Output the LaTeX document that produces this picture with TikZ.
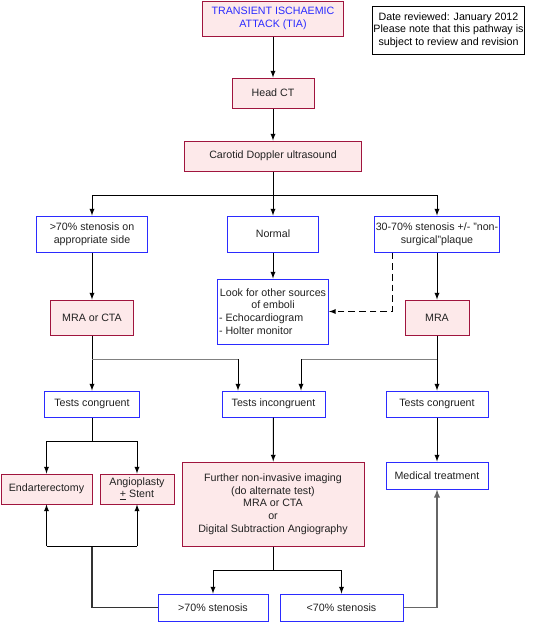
\documentclass[tikz,border=0pt]{standalone}
\usepackage{fontspec}
\setmainfont{Liberation Sans}
\definecolor{boxred}{HTML}{A0153E}
\definecolor{boxpink}{HTML}{FDE9EA}
\definecolor{boxblue}{HTML}{2B2BFF}
\definecolor{txt}{HTML}{222222}

\begin{document}
\begin{tikzpicture}[x=0.75pt, y=-0.75pt, >=latex, line width=0.75pt,
        font=\fontsize{8}{9.5}\selectfont,
        redbox/.style={draw=boxred, fill=boxpink, text=txt, align=center, inner sep=1pt},
        bluebox/.style={draw=boxblue, fill=white, text=txt, align=center, inner sep=1pt}]
        \useasboundingbox (0,0) rectangle (554,622);

        % top of the pathway
        \node[redbox, text=boxblue, minimum width=105.75pt, minimum height=26.25pt] (tia) at (273,18.5) {TRANSIENT ISCHAEMIC\\ATTACK (TIA)};
        \node[draw, fill=white, align=center, inner sep=1pt, minimum width=110.25pt, minimum height=36pt] (date) at (448.5,30) {Date reviewed: January 2012\\Please note that this pathway is\\subject to review and revision};
        \node[redbox, minimum width=61.5pt, minimum height=22.5pt] (head) at (273,93) {Head CT};
        \node[redbox, minimum width=132.75pt, minimum height=22.5pt] (carotid) at (273,156) {Carotid Doppler ultrasound};

        % doppler results
        \node[bluebox, minimum width=83.25pt, minimum height=27pt] (stenL) at (92,234) {>70\% stenosis on\\appropriate side};
        \node[bluebox, minimum width=68.25pt, minimum height=27pt] (normal) at (273,234) {Normal};
        \node[bluebox, minimum width=92.25pt, minimum height=27pt] (stenR) at (437,234) {30-70\% stenosis +/- "non-\\surgical"plaque};

        \node[redbox, minimum width=62.25pt, minimum height=26.25pt] (mraL) at (92,317.5) {MRA or CTA};
        \node[draw=boxblue, fill=white, text=txt, align=left, inner sep=1pt, minimum width=83.25pt, minimum height=48.75pt] (look) at (273,311.5) {\makebox[81pt]{Look for other sources}\\\makebox[81pt]{of emboli}\\- Echocardiogram\\- Holter monitor};
        \node[redbox, minimum width=48pt, minimum height=26.25pt] (mraR) at (437,317.5) {MRA};

        \node[bluebox, minimum width=71.25pt, minimum height=19.5pt] (testL) at (92,404) {Tests congruent};
        \node[bluebox, minimum width=77.25pt, minimum height=19.5pt] (testM) at (273.5,404) {Tests incongruent};
        \node[bluebox, minimum width=76.5pt, minimum height=19.5pt] (testR) at (437,404) {Tests congruent};

        % treatments
        \node[redbox, minimum width=68.25pt, minimum height=22.5pt] (endo) at (46.5,489) {Endarterectomy};
        \node[redbox, minimum width=55.5pt, minimum height=22.5pt] (angio) at (137,489) {Angioplasty\\\underline{+} Stent};
        \node[redbox, minimum width=136.5pt, minimum height=63pt] (further) at (273,504) {Further non-invasive imaging\\(do alternate test)\\MRA or CTA\\or\\Digital Subtraction Angiography};
        \node[bluebox, minimum width=76.5pt, minimum height=20.25pt] (medical) at (437,475.5) {Medical treatment};

        \node[bluebox, minimum width=82.5pt, minimum height=20.25pt] (hi) at (213,607.5) {>70\% stenosis};
        \node[bluebox, minimum width=92.25pt, minimum height=20.25pt] (lo) at (341.5,607.5) {<70\% stenosis};

        % connectors
        \coordinate (split) at (273,195);
        \coordinate (dash) at (392,0);
        \coordinate (joinL) at (238,359);
        \coordinate (joinR) at (301,359);
        \coordinate (splitL) at (92,441);
        \coordinate (splitB) at (273,570);
        \coordinate (backL) at (92,546);

        \draw[->] (tia) -- (head);
        \draw[->] (head) -- (carotid);
        \draw (carotid) -- (split);
        \draw[->] (split) -| (stenL);
        \draw[->] (split) -- (normal);
        \draw[->] (split) -| (stenR);
        \draw[->] (stenL) -- (mraL);
        \draw[->] (normal) -- (look);
        \draw[->] (stenR) -- (mraR);
        \draw[->, dash pattern=on 5pt off 3pt] (stenR.south -| dash) |- (look);

        \draw[->] (mraL) -- (testL);
        \draw[->] (mraR) -- (testR);
        \draw[gray] (mraL |- joinL) -- (joinL);
        \draw[gray] (mraR |- joinR) -- (joinR);
        \draw[->] (joinL) -- (joinL |- testM.north);
        \draw[->] (joinR) -- (joinR |- testM.north);

        \draw (testL) -- (splitL);
        \draw[->] (splitL) -| (endo);
        \draw[->] (splitL) -| (angio);
        \draw[->] (testM) -- (further);
        \draw[->] (testR) -- (medical);

        \draw (further) -- (splitB);
        \draw[->] (splitB) -| (hi);
        \draw[->] (splitB) -| (lo);
        \draw[black!80, line width=1.1pt] (hi) -| (backL);
        \draw (backL -| endo) -- (backL -| angio);
        \draw[->] (backL -| endo) -- (endo);
        \draw[->] (backL -| angio) -- (angio);
        \draw[->, black!60, line width=1.1pt] (lo) -| (medical);
    \end{tikzpicture}
\end{document}
